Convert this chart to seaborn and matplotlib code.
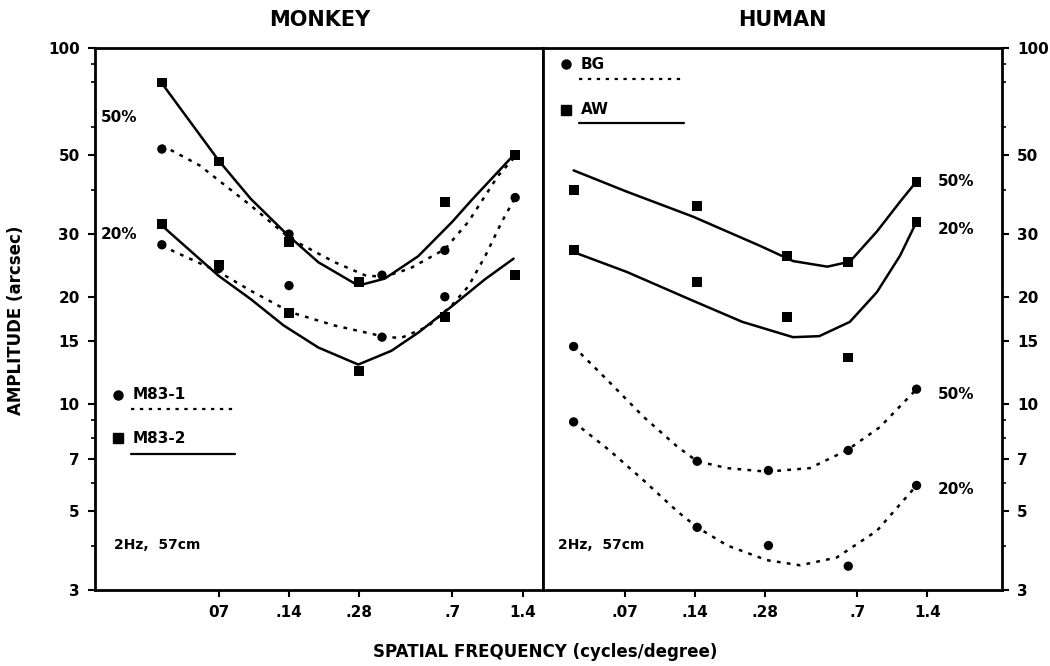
"""Amplitude thresholds vs spatial frequency - monkey / human"""

import matplotlib.pyplot as plt
import seaborn as sns
from matplotlib.ticker import NullLocator, NullFormatter, LogLocator

m1_50_x = [0.04, 0.14, 0.35, 0.65, 1.3]
m1_50_y = [52, 30, 23, 27, 50]
m2_50_x = [0.04, 0.07, 0.14, 0.28, 0.65, 1.3]
m2_50_y = [80, 48, 28.5, 22, 37, 50]
m1_20_x = [0.04, 0.07, 0.14, 0.35, 0.65, 1.3]
m1_20_y = [28, 24, 21.5, 15.4, 20, 38]
m2_20_x = [0.04, 0.07, 0.14, 0.28, 0.65, 1.3]
m2_20_y = [32, 24.5, 18, 12.4, 17.5, 23]

h_x = [0.042, 0.143, 0.35, 0.64, 1.26]
aw_50_y = [40, 36, 26, 25, 42]
aw_20_y = [27, 22, 17.5, 13.5, 32.5]
bg_x = [0.042, 0.143, 0.29, 0.64, 1.26]
bg_50_y = [14.5, 6.9, 6.5, 7.4, 11]
bg_20_y = [8.9, 4.5, 4.0, 3.5, 5.9]

# ---- hand-drawn fitted curves ----
c_m2_50_x = [0.04, 0.07, 0.096, 0.139, 0.187, 0.277, 0.36, 0.5, 0.7, 0.85, 1.28]
c_m2_50_y = [79.6, 48.3, 37.7, 29.7, 25, 21.5, 22.5, 26, 32.5, 37.5, 50]
c_m1_50_x = [0.04, 0.058, 0.096, 0.142, 0.22, 0.30, 0.36, 0.46, 0.65, 0.82, 1.1, 1.28]
c_m1_50_y = [53.3, 46.8, 36.1, 29.1, 25, 22.9, 22.8, 24, 27.2, 32.5, 43.8, 49]
c_m2_20_x = [0.04, 0.07, 0.096, 0.133, 0.187, 0.277, 0.384, 0.503, 0.696, 0.966, 1.28]
c_m2_20_y = [31.7, 22.9, 19.7, 16.6, 14.4, 12.9, 14.1, 15.9, 18.8, 22.4, 25.6]
c_m1_20_x = [0.04, 0.07, 0.096, 0.142, 0.22, 0.35, 0.42, 0.55, 0.7, 0.82, 0.97, 1.14, 1.3]
c_m1_20_y = [27.8, 23.5, 20.8, 18.1, 16.6, 15.5, 15.3, 16.5, 19, 21.4, 26.1, 32.5, 38]

c_aw_50_x = [0.042, 0.071, 0.137, 0.267, 0.37, 0.52, 0.65, 0.85, 1.07, 1.26]
c_aw_50_y = [45.3, 39.5, 33.6, 27.8, 25.2, 24.3, 25.1, 30.5, 37, 42.2]
c_aw_20_x = [0.042, 0.071, 0.137, 0.224, 0.37, 0.48, 0.65, 0.85, 1.07, 1.26]
c_aw_20_y = [26.7, 23.5, 19.5, 17, 15.4, 15.5, 17, 20.6, 26.1, 32.5]
c_bg_50_x = [0.042, 0.060, 0.084, 0.117, 0.143, 0.193, 0.285, 0.437, 0.63, 0.875, 1.26]
c_bg_50_y = [14.5, 11.5, 9.2, 7.6, 6.9, 6.6, 6.45, 6.6, 7.4, 8.6, 11]
c_bg_20_x = [0.042, 0.060, 0.084, 0.117, 0.143, 0.193, 0.285, 0.397, 0.57, 0.85, 1.26]
c_bg_20_y = [8.9, 7.4, 6.1, 5.0, 4.5, 4.0, 3.64, 3.52, 3.7, 4.4, 5.9]

yticks = [3, 5, 7, 10, 15, 20, 30, 50, 100]
xticks = [0.07, 0.14, 0.28, 0.7, 1.4]
xlabels_left = ["07", ".14", ".28", ".7", "1.4"]
xlabels_right = [".07", ".14", ".28", ".7", "1.4"]

sns.set_style("ticks")
plt.rcParams["font.family"] = ["DejaVu Sans"]
plt.rcParams["font.weight"] = "bold"
for k in ["text.color", "axes.labelcolor", "xtick.color", "ytick.color",
          "axes.edgecolor"]:
    plt.rcParams[k] = "black"

DOT = (0, (1.5, 2.5))

fig = plt.figure(figsize=(10.5, 6.66), dpi=100)
ax1 = fig.add_axes([95 / 1050, 76 / 666, 448 / 1050, 542 / 666])
ax2 = fig.add_axes([543 / 1050, 76 / 666, 459 / 1050, 542 / 666])


def curve(ax, x, y, ls):
    sns.lineplot(x=x, y=y, ax=ax, color="black", lw=1.8, linestyle=ls,
                 sort=False, estimator=None)


def pts(ax, x, y, mk, s):
    sns.scatterplot(x=x, y=y, ax=ax, color="black", marker=mk, s=s,
                    edgecolor="none", zorder=5)


curve(ax1, c_m2_50_x, c_m2_50_y, "-")
curve(ax1, c_m1_50_x, c_m1_50_y, DOT)
curve(ax1, c_m2_20_x, c_m2_20_y, "-")
curve(ax1, c_m1_20_x, c_m1_20_y, DOT)
pts(ax1, m1_50_x, m1_50_y, "o", 45)
pts(ax1, m2_50_x, m2_50_y, "s", 50)
pts(ax1, m1_20_x, m1_20_y, "o", 45)
pts(ax1, m2_20_x, m2_20_y, "s", 50)

curve(ax2, c_aw_50_x, c_aw_50_y, "-")
curve(ax2, c_aw_20_x, c_aw_20_y, "-")
curve(ax2, c_bg_50_x, c_bg_50_y, DOT)
curve(ax2, c_bg_20_x, c_bg_20_y, DOT)
pts(ax2, h_x, aw_50_y, "s", 50)
pts(ax2, h_x, aw_20_y, "s", 50)
pts(ax2, bg_x, bg_50_y, "o", 45)
pts(ax2, bg_x, bg_20_y, "o", 45)

for ax, xl, labs in [(ax1, (0.0207, 1.71), xlabels_left),
                     (ax2, (0.031, 2.94), xlabels_right)]:
    ax.set_xscale("log")
    ax.set_yscale("log")
    ax.set_xlim(*xl)
    ax.set_ylim(3, 100)
    ax.set_xticks(xticks)
    ax.set_xticklabels(labs)
    ax.xaxis.set_minor_locator(NullLocator())
    ax.set_yticks(yticks)
    ax.set_yticklabels([str(v) for v in yticks])
    ax.yaxis.set_minor_locator(LogLocator(base=10, subs=(4, 6, 8, 9)))
    ax.yaxis.set_minor_formatter(NullFormatter())
    for sp in ax.spines.values():
        sp.set_visible(True)
        sp.set_linewidth(2)
    ax.tick_params(axis="both", which="major", direction="out", width=1.5,
                   length=5, labelsize=11, pad=6)
    ax.tick_params(axis="y", which="minor", direction="out", width=1.2,
                   length=3)
    ax.set_xlabel("")
    ax.set_ylabel("")

ax2.yaxis.tick_right()
ax2.yaxis.set_label_position("right")

# percent labels
ax1.text(0.022, 62, "50%", fontsize=11)
ax1.text(0.022, 29, "20%", fontsize=11)
ax2.text(1.55, 41, "50%", fontsize=11)
ax2.text(1.55, 30, "20%", fontsize=11)
ax2.text(1.55, 10.3, "50%", fontsize=11)
ax2.text(1.55, 5.6, "20%", fontsize=11)

# legends
ax1.plot(0.026, 10.6, "o", color="black", ms=6.5)
ax1.text(0.03, 10.6, "M83-1", fontsize=11, va="center")
ax1.plot([0.0295, 0.082], [9.65, 9.65], color="black", lw=1.6, linestyle=DOT)
ax1.plot(0.026, 8.0, "s", color="black", ms=6.5)
ax1.text(0.03, 8.0, "M83-2", fontsize=11, va="center")
ax1.plot([0.0295, 0.082], [7.25, 7.25], color="black", lw=1.6)

ax2.plot(0.039, 90, "o", color="black", ms=6.5)
ax2.text(0.045, 90, "BG", fontsize=11, va="center")
ax2.plot([0.0445, 0.126], [82, 82], color="black", lw=1.6, linestyle=DOT)
ax2.plot(0.039, 67, "s", color="black", ms=6.5)
ax2.text(0.045, 67, "AW", fontsize=11, va="center")
ax2.plot([0.0445, 0.126], [61.5, 61.5], color="black", lw=1.6)

ax1.text(0.025, 3.9, "2Hz,  57cm", fontsize=10)
ax2.text(0.036, 3.9, "2Hz,  57cm", fontsize=10)

fig.text(320 / 1050, 1 - 20 / 666, "MONKEY", fontsize=15, ha="center", va="center")
fig.text(782 / 1050, 1 - 20 / 666, "HUMAN", fontsize=15, ha="center", va="center")
fig.text(16 / 1050, 1 - 320 / 666, "AMPLITUDE (arcsec)", fontsize=12,
         rotation=90, ha="center", va="center")
fig.text(545 / 1050, 1 - 652 / 666, "SPATIAL FREQUENCY (cycles/degree)",
         fontsize=12, ha="center", va="center")

fig.savefig("out.png", dpi=100)
